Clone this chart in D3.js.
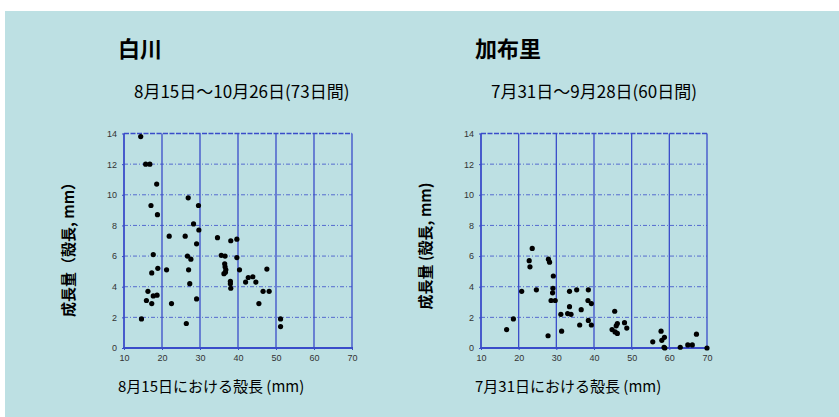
<!DOCTYPE html>
<html>
<head>
<meta charset="utf-8">
<script src="https://cdn.jsdelivr.net/npm/d3@7"></script>
<style>
  body { margin: 0; background: #fff; }
  text { font-family: "Noto Sans CJK JP", "Noto Sans", sans-serif; }
</style>
</head>
<body>
<svg id="chart" width="839" height="417"></svg>
<script>
// 白川: shell length on 8/15 (mm) vs growth (mm)
const shirakawaLength = [14.4, 15.7, 16.8, 18.6, 17.1, 18.8, 26.9, 29.6, 28.3, 29.7, 21.9, 26.1, 34.6, 38.1, 39.7,
    29.1, 17.7, 26.7, 27.6, 35.6, 36.6, 36.5, 36.6, 36.8, 36.7, 36.3, 39.7, 17.3, 18.9, 21.2, 27.0, 27.3,
    16.3, 15.9, 17.3, 17.7, 18.7, 22.5, 14.6, 26.4, 29.1, 38.0, 38.0, 38.1, 40.4, 42.0, 42.7, 43.9, 44.7,
    46.6, 48.2, 45.5, 47.6, 51.2, 51.2];
const shirakawaGrowth = [13.8, 12.0, 12.0, 10.7, 9.3, 8.7, 9.8, 9.3, 8.1, 7.7, 7.3, 7.3, 7.2, 7.0, 7.1,
    6.8, 6.1, 6.0, 5.8, 6.05, 6.0, 5.5, 5.3, 5.1, 4.95, 4.85, 5.9, 4.9, 5.2, 5.1, 5.1, 4.2,
    3.7, 3.1, 2.9, 3.4, 3.45, 2.9, 1.9, 1.6, 3.2, 4.35, 4.2, 3.9, 5.1, 4.3, 4.6, 4.65, 4.3,
    3.7, 3.7, 2.9, 5.15, 1.9, 1.4];

// 加布里: shell length on 7/31 (mm) vs growth (mm)
const kafuriLength = [16.8, 18.6, 20.8, 23.6, 22.8, 23.0, 24.7, 27.9, 28.2, 27.8, 29.2, 29.1, 29.0, 28.6, 29.7,
    31.2, 31.4, 33.0, 33.9, 33.5, 33.5, 35.4, 36.6, 36.2, 38.5, 38.4, 39.3, 38.5, 39.3,
    45.5, 46.2, 45.9, 48.1, 48.7, 44.8, 45.6, 46.2, 55.6, 57.8, 58.0, 58.7, 58.6, 58.8, 62.9, 64.9, 66.1, 67.2, 70.0];
const kafuriGrowth = [1.2, 1.9, 3.7, 6.5, 5.7, 5.3, 3.8, 5.8, 5.6, 0.8, 4.7, 3.9, 3.6, 3.1, 3.1,
    2.2, 1.1, 2.25, 2.2, 2.7, 3.7, 3.8, 2.5, 1.5, 3.8, 3.1, 2.9, 1.8, 1.5,
    2.4, 1.6, 1.45, 1.65, 1.3, 1.2, 1.05, 0.95, 0.4, 1.1, 0.5, 0.7, 0.05, 0.0, 0.05, 0.2, 0.2, 0.9, 0.0];

const xTicks = [10, 20, 30, 40, 50, 60, 70];
const yTicks = [0, 2, 4, 6, 8, 10, 12, 14];

const panels = [
    {title: "白川", period: "8月15日〜10月26日(73日間)", xTitle: "8月15日における殻長 (mm)",
     yTitle: "成長量（殻長, mm）", xs: shirakawaLength, ys: shirakawaGrowth, left: 124, right: 352},
    {title: "加布里", period: "7月31日〜9月28日(60日間)", xTitle: "7月31日における殻長 (mm)",
     yTitle: "成長量 (殻長, mm)", xs: kafuriLength, ys: kafuriGrowth, left: 481, right: 707}
];

const gridColor = "#3a4cc9";
const plotTop = 133.5, plotBottom = 348;

const svg = d3.select("#chart");

svg.append("rect")
    .attr("x", 5).attr("y", 11)
    .attr("width", 834).attr("height", 406)
    .attr("fill", "#bde0e3");

panels.forEach(p => {
    const x = d3.scaleLinear().domain([10, 70]).range([p.left, p.right]);
    const y = d3.scaleLinear().domain([0, 14]).range([plotBottom, plotTop]);
    const g = svg.append("g");

    // horizontal dashed grid
    g.selectAll(".hgrid")
        .data(yTicks.filter(v => v > 0 && v < 14))
        .join("line")
        .attr("x1", x(10)).attr("x2", x(70))
        .attr("y1", d => y(d)).attr("y2", d => y(d))
        .attr("stroke", gridColor).attr("stroke-width", 0.8)
        .attr("stroke-dasharray", "4,2,1,2");

    // top edge
    g.append("line")
        .attr("x1", x(10)).attr("x2", x(70))
        .attr("y1", y(14)).attr("y2", y(14))
        .attr("stroke", gridColor).attr("stroke-width", 1.4)
        .attr("stroke-dasharray", "5,1.5");

    // vertical grid
    g.selectAll(".vgrid")
        .data(xTicks)
        .join("line")
        .attr("x1", d => x(d)).attr("x2", d => x(d))
        .attr("y1", y(14)).attr("y2", y(0))
        .attr("stroke", gridColor)
        .attr("stroke-width", d => d === 10 ? 1.8 : 1.3);

    // bottom edge
    g.append("line")
        .attr("x1", x(10) - 1).attr("x2", x(70) + 1)
        .attr("y1", y(0)).attr("y2", y(0))
        .attr("stroke", gridColor).attr("stroke-width", 2.2);

    const yAxis = g.append("g")
        .attr("transform", "translate(" + x(10) + ",0)")
        .call(d3.axisLeft(y).tickValues(yTicks).tickSize(2).tickPadding(5));
    yAxis.select(".domain").remove();

    const xAxis = g.append("g")
        .attr("transform", "translate(0," + y(0) + ")")
        .call(d3.axisBottom(x).tickValues(xTicks).tickSize(2).tickPadding(5));
    xAxis.select(".domain").remove();

    [yAxis, xAxis].forEach(a => {
        a.selectAll("line").attr("stroke", gridColor);
        a.selectAll("text")
            .style("font-family", "Liberation Sans, sans-serif")
            .style("font-size", "9px")
            .attr("fill", "#333");
    });

    // points
    g.selectAll("circle")
        .data(p.xs.map((v, i) => [v, p.ys[i]]))
        .join("circle")
        .attr("cx", d => x(d[0]))
        .attr("cy", d => y(d[1]))
        .attr("r", 2.6)
        .attr("fill", "#000");

    // texts
    svg.append("text")
        .attr("x", p.left - 6).attr("y", 57)
        .style("font-size", "22px").style("font-weight", "bold")
        .text(p.title);

    svg.append("text")
        .attr("x", p.left + 10).attr("y", 98)
        .style("font-size", "17px")
        .text(p.period);

    svg.append("text")
        .attr("x", p.left - 6).attr("y", 392)
        .style("font-size", "15px")
        .text(p.xTitle);

    svg.append("text")
        .attr("transform", "translate(" + (p.left - 50) + "," + 246 + ")rotate(-90)")
        .style("text-anchor", "middle")
        .style("font-size", "15px")
        .style("font-weight", "bold")
        .text(p.yTitle);
});
</script>
</body>
</html>
